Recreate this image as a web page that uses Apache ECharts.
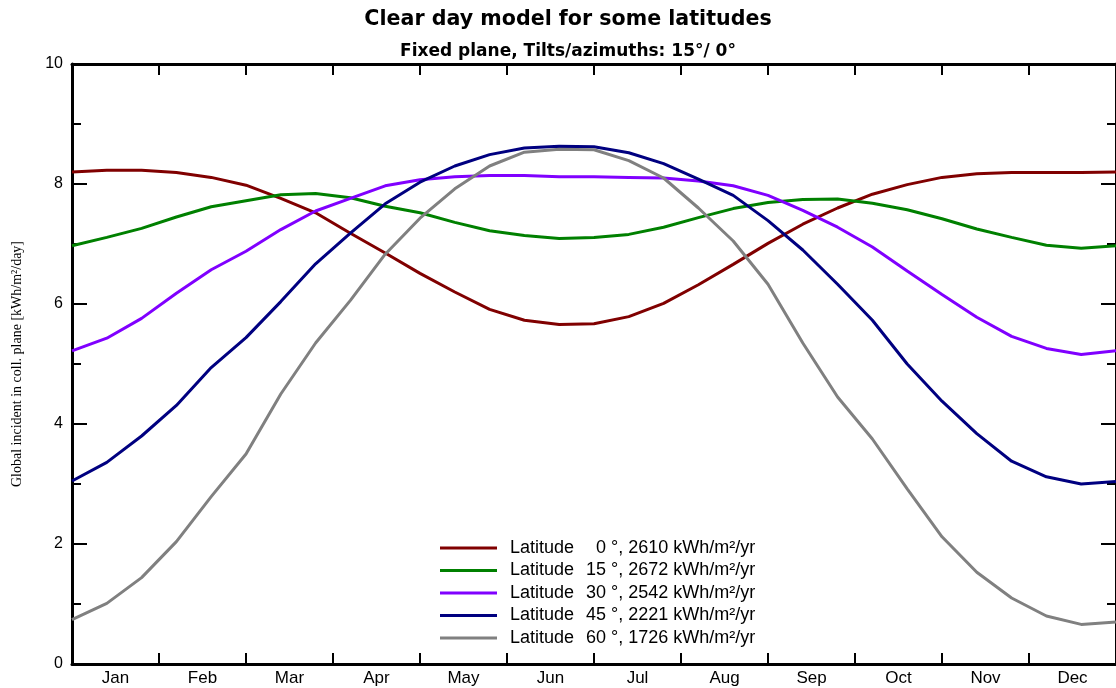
<!DOCTYPE html>
<html>
<head>
<meta charset="utf-8">
<script src="https://cdn.jsdelivr.net/npm/echarts@6/dist/echarts.min.js"></script>
<style>
html,body{margin:0;padding:0;background:#fff;}
#chart{width:1116px;height:688px;}
</style>
</head>
<body>
<div id="chart"></div>
<script>
// ---- data ----
const months = ['Jan','Feb','Mar','Apr','May','Jun','Jul','Aug','Sep','Oct','Nov','Dec'];
// positions along the year in month units (0 = 1 Jan, 12 = 31 Dec)
const monthPos = [0,0.4,0.8,1.2,1.6,2.0,2.4,2.8,3.2,3.6,4.0,4.4,4.8,5.2,5.6,6.0,6.4,6.8,7.2,7.6,8.0,8.4,8.8,9.2,9.6,10.0,10.4,10.8,11.2,11.6,12.0];
const latitudes = [0, 15, 30, 45, 60];
const annualTotals = [2610, 2672, 2542, 2221, 1726];
const lat0  = [8.20,8.23,8.23,8.19,8.11,7.98,7.76,7.52,7.18,6.85,6.51,6.20,5.91,5.73,5.66,5.67,5.79,6.01,6.32,6.66,7.01,7.33,7.60,7.83,7.99,8.11,8.17,8.19,8.19,8.19,8.20];
const lat15 = [6.97,7.11,7.26,7.45,7.62,7.72,7.82,7.84,7.77,7.63,7.52,7.36,7.22,7.14,7.09,7.11,7.16,7.28,7.44,7.59,7.69,7.74,7.75,7.68,7.57,7.42,7.25,7.11,6.98,6.93,6.97];
const lat30 = [5.22,5.43,5.76,6.18,6.57,6.88,7.24,7.55,7.76,7.97,8.07,8.12,8.14,8.14,8.12,8.12,8.11,8.10,8.05,7.97,7.81,7.56,7.28,6.95,6.55,6.16,5.78,5.46,5.26,5.16,5.22];
const lat45 = [3.05,3.36,3.80,4.31,4.94,5.44,6.04,6.67,7.18,7.67,8.03,8.30,8.49,8.60,8.63,8.62,8.52,8.34,8.08,7.81,7.39,6.90,6.33,5.73,5.00,4.38,3.84,3.38,3.12,3.00,3.04];
const lat60 = [0.74,1.01,1.44,2.04,2.79,3.50,4.50,5.35,6.06,6.83,7.43,7.92,8.30,8.53,8.58,8.57,8.39,8.10,7.60,7.05,6.33,5.35,4.45,3.75,2.92,2.12,1.53,1.10,0.80,0.66,0.70];
const seriesValues = [lat0, lat15, lat30, lat45, lat60];
const colors = ['#800000', '#008000', '#8000ff', '#000080', '#808080'];

const names = latitudes.map((l, i) => 'Latitude ' + l + ' °, ' + annualTotals[i] + ' kWh/m²/yr');

const chart = echarts.init(document.getElementById('chart'), null, {renderer: 'canvas'});

const tickStyle = {color: '#000', width: 2};
const baseFont = 'Liberation Sans, Arial, sans-serif';
const legendTxt = {fontFamily: baseFont, fontSize: 18, color: '#000', lineHeight: 20};

const option = {
  animation: false,
  backgroundColor: '#fff',
  title: [
    {text: 'Clear day model for some latitudes', left: 568, textAlign: 'center', top: 9, padding: 0,
     textStyle: {fontFamily: 'DejaVu Sans', fontWeight: 'bold', fontSize: 20.6, color: '#000'}},
    {text: 'Fixed plane, Tilts/azimuths: 15°/ 0°', left: 568, textAlign: 'center', top: 43, padding: 0,
     textStyle: {fontFamily: 'DejaVu Sans', fontWeight: 'bold', fontSize: 17, color: '#000'}}
  ],
  grid: {left: 72, top: 64, width: 1048, height: 600, containLabel: false},
  legend: {
    orient: 'vertical', left: 440, top: 538, padding: 0,
    itemWidth: 57, itemHeight: 3, itemGap: 2.5, icon: 'rect',
    data: names,
    formatter: function (name) {
      const i = names.indexOf(name);
      const num = String(latitudes[i]);
      return '{a|Latitude}{n' + num.length + '|' + num + '}{r| °, ' + annualTotals[i] + ' kWh/m²/yr}';
    },
    textStyle: Object.assign({}, legendTxt, {
      rich: {
        a: Object.assign({}, legendTxt, {width: 64, padding: [0, 0, 0, 8]}),
        n1: Object.assign({}, legendTxt, {padding: [0, 0, 0, 22]}),
        n2: Object.assign({}, legendTxt, {padding: [0, 0, 0, 12]}),
        r: Object.assign({}, legendTxt)
      }
    })
  },
  xAxis: [
    {type: 'value', position: 'bottom', min: 0, max: 12, interval: 1,
     axisLine: {onZero: false, lineStyle: {color: '#000', width: 3}},
     axisTick: {inside: true, length: 11, lineStyle: tickStyle},
     axisLabel: {show: false}, splitLine: {show: false}},
    {type: 'value', position: 'top', min: 0, max: 12, interval: 1,
     axisLine: {onZero: false, lineStyle: {color: '#000', width: 3}},
     axisTick: {inside: true, length: 11, lineStyle: tickStyle},
     axisLabel: {show: false}, splitLine: {show: false}},
    {type: 'category', position: 'bottom', data: months, boundaryGap: true,
     axisLine: {show: false}, axisTick: {show: false}, splitLine: {show: false},
     axisLabel: {fontFamily: baseFont, fontSize: 17, color: '#000', margin: 6}}
  ],
  yAxis: [
    {type: 'value', position: 'left', min: 0, max: 10, interval: 2,
     name: 'Global incident in coll. plane [kWh/m²/day]',
     nameLocation: 'middle', nameGap: 48, nameRotate: 90,
     nameTextStyle: {fontFamily: 'Liberation Serif, Times New Roman, serif', fontSize: 14, color: '#000'},
     axisLine: {onZero: false, lineStyle: {color: '#000', width: 3}},
     axisTick: {inside: true, length: 15, lineStyle: tickStyle},
     minorTick: {show: true, splitNumber: 2, length: 9, lineStyle: tickStyle},
     axisLabel: {fontFamily: baseFont, fontSize: 16, color: '#000', margin: 9},
     splitLine: {show: false}},
    {type: 'value', position: 'right', min: 0, max: 10, interval: 2,
     axisLine: {onZero: false, lineStyle: {color: '#000', width: 3}},
     axisTick: {inside: true, length: 15, lineStyle: tickStyle},
     minorTick: {show: true, splitNumber: 2, length: 9, lineStyle: tickStyle},
     axisLabel: {show: false}, splitLine: {show: false}}
  ],
  series: seriesValues.map((vals, i) => ({
    name: names[i],
    type: 'line',
    xAxisIndex: 0,
    yAxisIndex: 0,
    showSymbol: false,
    symbol: 'none',
    smooth: false,
    color: colors[i],
    lineStyle: {color: colors[i], width: 3},
    data: monthPos.map((m, k) => [m, vals[k]])
  }))
};
chart.setOption(option);
</script>
</body>
</html>
